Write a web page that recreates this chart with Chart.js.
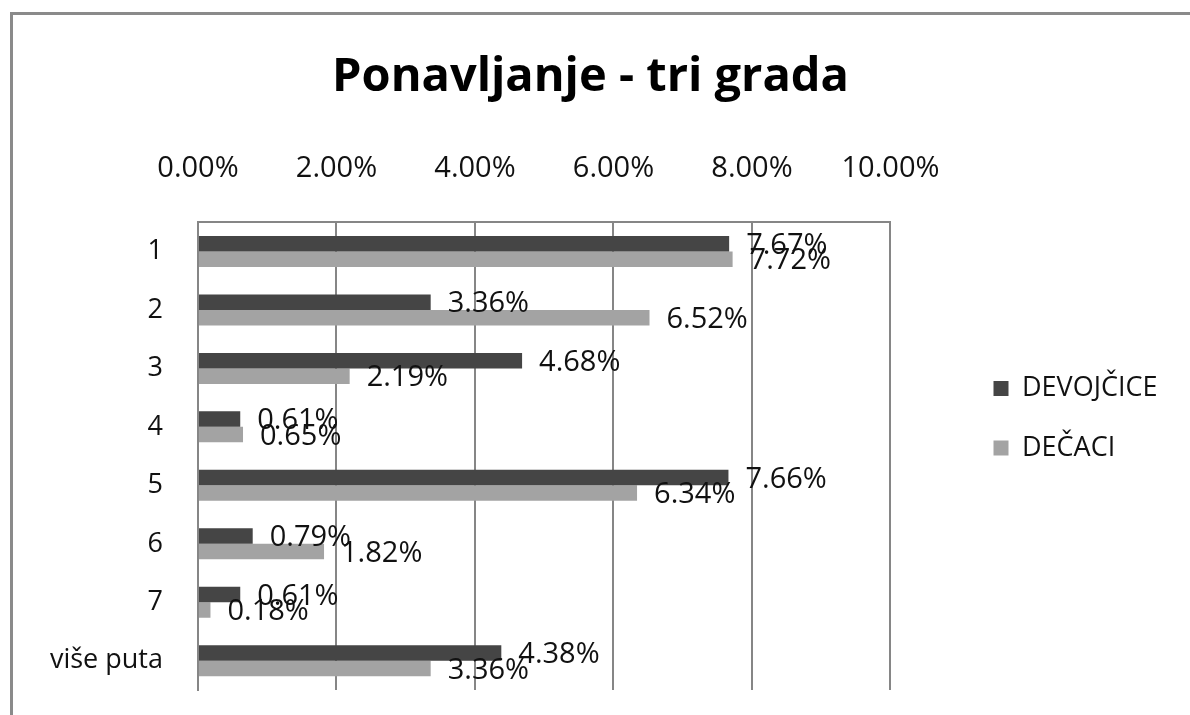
<!DOCTYPE html>
<html>
<head>
<meta charset="utf-8">
<script src="https://cdn.jsdelivr.net/npm/chart.js@4.4.1/dist/chart.umd.min.js"></script>
<style>
    body { margin: 0; background: #fff; }
    #okvir { position: relative; width: 1190px; height: 715px; overflow: hidden; }
    #ivica { position: absolute; left: 10px; top: 12px; width: 1300px; height: 800px;
             border-top: 3px solid #8a8a8a; border-left: 3px solid #8a8a8a; }
    canvas { position: absolute; left: 0; top: 0; }
</style>
</head>
<body>
<div id="okvir">
    <div id="ivica"></div>
    <canvas id="grafik" width="1190" height="715"></canvas>
</div>
<script>
const KATEGORIJE = ['1', '2', '3', '4', '5', '6', '7', 'više puta'];
const DEVOJCICE = [7.67, 3.36, 4.68, 0.61, 7.66, 0.79, 0.61, 4.38];
const DECACI = [7.72, 6.52, 2.19, 0.65, 6.34, 1.82, 0.18, 3.36];
const OSA_MIN = 0;
const OSA_MAX = 10;
const OSA_KORAK = 2;

const FONT = '"Open Sans", "DejaVu Sans", sans-serif';
const SIVA_LINIJA = '#868686';

// natpisi vrednosti desno od kraja svakog stubica
const oznakeVrednosti = {
    id: 'oznakeVrednosti',
    afterDatasetsDraw(chart) {
        const ctx = chart.ctx;
        ctx.save();
        ctx.font = '29px ' + FONT;
        ctx.fillStyle = '#111';
        ctx.textAlign = 'left';
        ctx.textBaseline = 'middle';
        chart.data.datasets.forEach((ds, i) => {
            chart.getDatasetMeta(i).data.forEach((bar, j) => {
                ctx.fillText(ds.data[j].toFixed(2) + '%', bar.x + 17, bar.y + 2);
            });
        });
        ctx.restore();
    }
};

new Chart(document.getElementById('grafik'), {
    type: 'bar',
    data: {
        labels: KATEGORIJE,
        datasets: [
            { label: 'DEVOJČICE', data: DEVOJCICE, backgroundColor: '#454545', borderWidth: 0 },
            { label: 'DEČACI', data: DECACI, backgroundColor: '#a3a3a3', borderWidth: 0 }
        ]
    },
    options: {
        indexAxis: 'y',
        responsive: false,
        animation: false,
        categoryPercentage: 0.53,
        barPercentage: 1.0,
        layout: { padding: { left: 13.5, right: 22.5, top: 0, bottom: 25 } },
        scales: {
            x: {
                position: 'top',
                min: OSA_MIN,
                max: OSA_MAX,
                ticks: {
                    stepSize: OSA_KORAK,
                    padding: 36,
                    color: '#111',
                    font: { family: FONT, size: 29 },
                    callback: v => v.toFixed(2) + '%'
                },
                grid: { color: SIVA_LINIJA, lineWidth: 2, drawTicks: false },
                border: { display: true, color: SIVA_LINIJA, width: 2 }
            },
            y: {
                ticks: {
                    padding: 5,
                    color: '#111',
                    font: { family: FONT, size: 27 }
                },
                // crtice se ne vide (grid je iskljucen), ali odmicu natpise od ose
                grid: { display: false, drawTicks: true, tickLength: 30 },
                border: { display: true, color: SIVA_LINIJA, width: 2 },
                afterFit: s => { s.width = 184.5; }
            },
            razmak: {
                type: 'linear',
                axis: 'y',
                position: 'right',
                ticks: { display: false },
                grid: { display: false, drawTicks: false },
                border: { display: false },
                afterFit: s => { s.width = 70.5; }
            }
        },
        plugins: {
            title: {
                display: true,
                text: 'Ponavljanje - tri grada',
                color: '#000',
                font: { family: FONT, size: 47, weight: 'bold' },
                padding: { top: 49, bottom: 10 }
            },
            legend: {
                position: 'right',
                align: 'start',
                fullSize: false,
                maxWidth: 300,
                title: { display: true, text: ' ', font: { size: 12 }, padding: { top: 0, bottom: 106 } },
                labels: {
                    color: '#111',
                    font: { family: FONT, size: 27 },
                    boxWidth: 15,
                    boxHeight: 15,
                    padding: 32.5
                }
            },
            tooltip: { enabled: false }
        }
    },
    plugins: [oznakeVrednosti]
});
</script>
</body>
</html>
